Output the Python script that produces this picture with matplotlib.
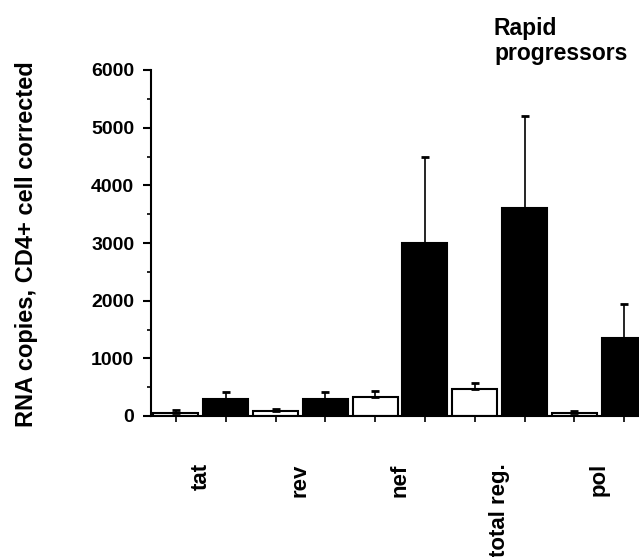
import matplotlib
matplotlib.use("Agg")
import matplotlib.pyplot as plt
import numpy as np
from matplotlib.ticker import MultipleLocator

plt.rcParams['font.family'] = ['Liberation Sans', 'DejaVu Sans']
plt.rcParams['font.weight'] = 'bold'

categories = ["tat", "rev", "nef", "total reg.", "pol"]
white_values = [60, 95, 330, 475, 60]
white_errors = [40, 35, 110, 105, 35]
black_values = [300, 300, 3000, 3600, 1350]
black_errors = [110, 110, 1490, 1600, 590]
y_ticks = [0, 1000, 2000, 3000, 4000, 5000, 6000]

W, H = 639, 557
fig = plt.figure(figsize=(W / 100, H / 100), dpi=100)
left_px, right_px = 151, 649
bottom_px, top_px = 416, 70
ax = fig.add_axes([left_px / W, (H - bottom_px) / H,
                   (right_px - left_px) / W, (bottom_px - top_px) / H])

n = len(categories)
xw = np.arange(n) * 2
xb = xw + 1
bw = 0.9
ax.bar(xw, white_values, width=bw, color='white', edgecolor='black', linewidth=1.5, zorder=2)
ax.bar(xb, black_values, width=bw, color='black', edgecolor='black', linewidth=1.5, zorder=2)
ax.errorbar(xw, white_values, yerr=[np.zeros(n), white_errors], fmt='none',
            ecolor='black', elinewidth=1.2, capsize=3.2, capthick=2, zorder=3)
ax.errorbar(xb, black_values, yerr=[np.zeros(n), black_errors], fmt='none',
            ecolor='black', elinewidth=1.2, capsize=3.2, capthick=2, zorder=3)

ax.set_xlim(-0.5, 2 * n - 0.5)
ax.set_ylim(0, 6000)
ax.set_yticks(y_ticks)
ax.set_yticklabels([str(t) for t in y_ticks], fontsize=14, fontweight='bold')
ax.yaxis.set_minor_locator(MultipleLocator(500))
ax.tick_params(axis='y', which='major', direction='out', length=6, width=1.5, pad=6)
ax.tick_params(axis='y', which='minor', direction='out', length=3, width=1.2)
ax.set_xticks(np.arange(2 * n))
ax.set_xticklabels([])
ax.tick_params(axis='x', which='major', direction='out', length=4, width=1.2)

for s in ['top', 'right']:
    ax.spines[s].set_visible(False)
for s in ['left', 'bottom']:
    ax.spines[s].set_linewidth(1.5)

for i, c in enumerate(categories):
    ax.annotate(c, xy=(xw[i] + 0.5, 0), xycoords=('data', 'axes fraction'),
                xytext=(0, -34), textcoords='offset points', rotation=90,
                ha='center', va='top', fontsize=16, fontweight='bold')

fig.text(27 / W, 1 - 244.5 / H, "RNA copies, CD4+ cell corrected", fontsize=17,
         fontweight='bold', rotation=90, ha='center', va='center')

fig.text(494 / W, 1 - 17 / H, "Rapid\nprogressors", fontsize=16.5, fontweight='bold',
         ha='left', va='top', linespacing=1.1)

fig.savefig("out.png", dpi=100)
